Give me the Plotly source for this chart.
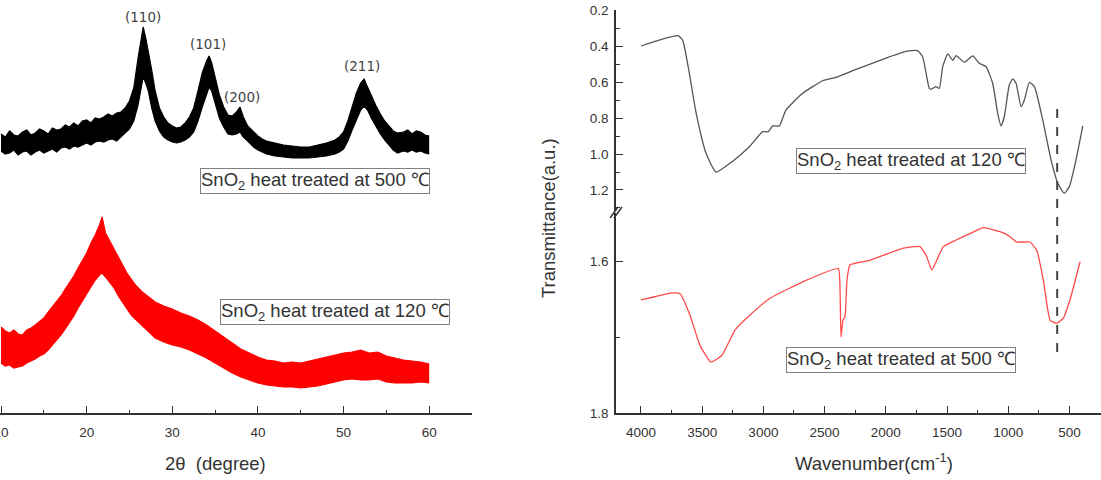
import plotly.graph_objects as go

# ---------------- XRD data (left panel), intensity in a.u. ----------------
xrd_theta_500 = [10.0, 10.5, 11.0, 11.5, 12.0, 12.5, 13.0, 13.5, 14.0, 14.5, 15.0, 15.5, 16.0, 16.5,
                 17.0, 17.5, 18.0, 18.5, 19.0, 19.5, 20.0, 20.5, 21.0, 21.5, 22.0, 22.5, 23.0, 23.5,
                 24.0, 24.5, 25.0, 25.5, 26.0, 26.3, 26.6, 26.9, 27.2, 27.6, 28.0, 28.5, 29.0, 29.5,
                 30.0, 30.5, 31.0, 31.5, 32.0, 32.5, 33.0, 33.5, 34.0, 34.3, 34.6, 35.0, 35.5, 36.0,
                 36.5, 37.0, 37.5, 37.9, 38.3, 38.8, 39.5, 40.0, 40.5, 41.0, 42.0, 43.0, 44.0, 45.0,
                 46.0, 47.0, 48.0, 49.0, 49.5, 50.0, 50.5, 51.0, 51.5, 52.0, 52.4, 52.8, 53.3, 53.8,
                 54.3, 54.8, 55.3, 55.8, 56.3, 57.0, 57.5, 58.0, 58.5, 59.0, 59.5, 60.0]
xrd_upper_500 = [279, 276, 282, 278, 277, 281, 283, 278, 280, 284, 282, 279, 285, 283,
                 284, 288, 286, 290, 287, 292, 293, 290, 295, 294, 296, 299, 297, 300,
                 301, 305, 312, 325, 355, 372, 386, 375, 362, 343, 322, 305, 296, 290,
                 287, 285, 286, 290, 296, 305, 322, 340, 352, 357, 350, 335, 318, 306,
                 298, 297, 301, 306, 296, 287, 281, 277, 274, 272, 270, 268, 267, 266,
                 266, 268, 270, 273, 276, 281, 292, 306, 320, 330, 334, 326, 316, 307,
                 299, 292, 287, 282, 280, 281, 283, 279, 282, 281, 278, 277]
xrd_lower_500 = [262, 259, 260, 263, 258, 261, 262, 258, 261, 263, 260, 262, 264, 261,
                 265, 266, 264, 267, 266, 268, 270, 268, 271, 272, 271, 273, 274, 272,
                 276, 279, 284, 292, 308, 322, 336, 330, 322, 305, 292, 282, 276, 273,
                 271, 270, 271, 273, 276, 281, 292, 306, 320, 326, 322, 310, 295, 286,
                 279, 278, 279, 281, 276, 272, 266, 263, 261, 259, 257, 256, 255, 255,
                 255, 256, 257, 259, 261, 264, 272, 283, 293, 303, 307, 303, 294, 286,
                 279, 273, 268, 263, 260, 262, 261, 263, 261, 262, 260, 259]

xrd_theta_120 = [10.0, 10.5, 11.0, 11.5, 12.0, 12.5, 13.0, 13.5, 14.0, 14.5, 15.0, 15.5, 16.0, 16.5,
                 17.0, 17.5, 18.0, 18.5, 19.0, 19.5, 20.0, 20.5, 21.0, 21.5, 21.8, 22.2, 22.7, 23.2,
                 23.7, 24.2, 24.7, 25.2, 25.8, 26.5, 27.2, 28.0, 29.0, 30.0, 31.0, 32.0, 33.0, 34.0,
                 35.0, 36.0, 37.0, 38.0, 39.0, 40.0, 41.0, 42.0, 43.0, 44.0, 45.0, 46.0, 47.0, 48.0,
                 49.0, 50.0, 51.0, 52.0, 53.0, 54.0, 55.0, 56.0, 57.0, 58.0, 59.0, 60.0]
xrd_upper_120 = [86, 82, 80, 83, 79, 78, 83, 85, 88, 92, 95, 101, 106, 112,
                 117, 124, 130, 137, 145, 152, 160, 170, 178, 188, 196, 180, 172, 163,
                 155, 147, 140, 134, 127, 121, 116, 111, 107, 104, 100, 97, 93, 88,
                 82, 76, 70, 64, 60, 56, 53, 52, 50, 51, 50, 52, 54, 56,
                 58, 60, 61, 63, 60, 61, 57, 55, 53, 52, 51, 49]
xrd_lower_120 = [50, 47, 48, 45, 46, 47, 50, 52, 54, 57, 59, 63, 68, 72,
                 78, 84, 90, 97, 105, 112, 120, 127, 133, 138, 140, 136, 131, 125,
                 117, 111, 104, 98, 93, 87, 81, 75, 71, 68, 66, 63, 59, 55,
                 50, 45, 40, 36, 33, 30, 28, 27, 26, 26, 25, 26, 27, 29,
                 31, 33, 34, 33, 33, 34, 31, 30, 30, 30, 31, 30]

peak_labels = ["(110)", "(101)", "(200)", "(211)"]
peak_theta = [26.6, 34.2, 38.1, 52.2]
peak_label_y = [396, 369, 316, 347]

# ---------------- FTIR data (right panel) ----------------
ftir_wn_120 = [4000, 3700, 3660, 3605, 3550, 3469, 3387, 3250, 3115, 3006, 2960, 2924, 2870, 2815,
               2679, 2516, 2407, 2243, 2025, 1835, 1740, 1699, 1645, 1630, 1590, 1563, 1535, 1494,
               1453, 1426, 1358, 1290, 1236, 1181, 1127, 1086, 1059, 1032, 991, 963, 936, 895,
               868, 827, 786, 718, 650, 595, 541, 500, 446, 391]
ftir_t_120 = [0.40, 0.343, 0.367, 0.552, 0.77, 0.995, 1.10, 1.04, 0.96, 0.876, 0.876, 0.844, 0.844, 0.755,
              0.663, 0.593, 0.574, 0.53, 0.474, 0.43, 0.426, 0.46, 0.635, 0.64, 0.626, 0.635, 0.515, 0.444,
              0.48, 0.453, 0.49, 0.455, 0.496, 0.515, 0.607, 0.774, 0.844, 0.793, 0.617, 0.583, 0.607, 0.737,
              0.70, 0.602, 0.626, 0.811, 1.033, 1.163, 1.218, 1.18, 1.033, 0.844]

ftir_wn_500 = [4000, 3886, 3747, 3681, 3600, 3518, 3428, 3338, 3232, 3109, 2946, 2674, 2388, 2374,
               2366, 2350, 2333, 2317, 2292, 2129, 1857, 1721, 1666, 1625, 1584, 1530, 1421, 1312,
               1203, 1040, 985, 930, 822, 767, 713, 658, 604, 549, 495, 413]
ftir_t_500 = [1.651, 1.647, 1.642, 1.643, 1.671, 1.711, 1.733, 1.724, 1.691, 1.671, 1.649, 1.627, 1.610, 1.638,
              1.700, 1.678, 1.673, 1.625, 1.605, 1.599, 1.583, 1.581, 1.594, 1.612, 1.599, 1.581, 1.572, 1.564,
              1.556, 1.563, 1.568, 1.575, 1.575, 1.586, 1.625, 1.678, 1.682, 1.675, 1.651, 1.601]

ftir_marker_wn = 600

# ---------------- helpers (pixel -> paper) ----------------
W, H = 1101, 480
ML, MR, MT, MB = 0, 0, 10, 67
PH = H - MT - MB


def px(x):
    return x / W


def py(y):
    return (H - MB - y) / PH


AXC = "#333333"
FONT = "Liberation Sans, Arial, sans-serif"

fig = go.Figure()

# XRD bands (filled between read-off envelopes)
fig.add_trace(go.Scatter(x=xrd_theta_500, y=xrd_lower_500, mode="lines",
                         line=dict(color="#000000", width=1.2), xaxis="x", yaxis="y",
                         hoverinfo="skip"))
fig.add_trace(go.Scatter(x=xrd_theta_500, y=xrd_upper_500, mode="lines", fill="tonexty",
                         fillcolor="#000000", line=dict(color="#000000", width=1.2),
                         xaxis="x", yaxis="y"))
fig.add_trace(go.Scatter(x=xrd_theta_120, y=xrd_lower_120, mode="lines",
                         line=dict(color="#ff0000", width=1.2), xaxis="x", yaxis="y",
                         hoverinfo="skip"))
fig.add_trace(go.Scatter(x=xrd_theta_120, y=xrd_upper_120, mode="lines", fill="tonexty",
                         fillcolor="#ff0000", line=dict(color="#ff0000", width=1.2),
                         xaxis="x", yaxis="y"))

# FTIR curves
fig.add_trace(go.Scatter(x=ftir_wn_120, y=ftir_t_120, mode="lines",
                         line=dict(color="#555555", width=1.3, shape="spline", smoothing=0.5),
                         xaxis="x2", yaxis="y2"))
fig.add_trace(go.Scatter(x=ftir_wn_500, y=ftir_t_500, mode="lines",
                         line=dict(color="#ff4a4a", width=1.3, shape="spline", smoothing=0.4),
                         xaxis="x2", yaxis="y3"))

tickfont = dict(family=FONT, size=13.5, color=AXC)

fig.update_layout(
    width=W, height=H,
    margin=dict(l=ML, r=MR, t=MT, b=MB, autoexpand=False),
    paper_bgcolor="white", plot_bgcolor="white",
    showlegend=False,
    font=dict(family=FONT, color=AXC),
    xaxis=dict(domain=[0, 472 / W], range=[9.88, 65.0], anchor="y", automargin=False,
               showline=True, linecolor=AXC, linewidth=1.5, showgrid=False, zeroline=False,
               ticks="inside", ticklen=7, tickwidth=1.3, tickcolor=AXC, tick0=10, dtick=10,
               ticklabeloverflow="allow", ticklabelstandoff=6,
               minor=dict(ticks="inside", ticklen=3, dtick=5, tick0=10, tickcolor=AXC, showgrid=False),
               tickfont=tickfont),
    yaxis=dict(domain=[0, 1], range=[0, PH], visible=False, anchor="x", automargin=False),
    xaxis2=dict(domain=[616 / W, 1], range=[4204, 242], anchor="y3", automargin=False,
                showline=True, linecolor=AXC, linewidth=1.5, showgrid=False, zeroline=False,
                ticks="inside", ticklen=7, tickwidth=1.3, tickcolor=AXC, tick0=500, dtick=500,
                ticklabelstandoff=6,
                minor=dict(ticks="inside", ticklen=3, dtick=250, tick0=500, tickcolor=AXC, showgrid=False),
                tickfont=tickfont),
    yaxis2=dict(domain=[py(211), 1], range=[1.3167, 0.2], anchor="x2", automargin=False,
                showline=True, linecolor=AXC, linewidth=1.5, showgrid=False, zeroline=False,
                ticks="inside", ticklen=7, tickwidth=1.3, tickcolor=AXC, tick0=0.2, dtick=0.2,
                tickformat=".1f", ticklabelstandoff=3,
                minor=dict(ticks="inside", ticklen=4, dtick=0.1, tick0=0.2, tickcolor=AXC, showgrid=False),
                tickfont=tickfont),
    yaxis3=dict(domain=[0, py(213)], range=[1.8, 1.5368], anchor="x2", automargin=False,
                showline=True, linecolor=AXC, linewidth=1.5, showgrid=False, zeroline=False,
                ticks="inside", ticklen=7, tickwidth=1.3, tickcolor=AXC, tick0=1.6, dtick=0.2,
                tickformat=".1f", ticklabelstandoff=3,
                minor=dict(ticks="inside", ticklen=4, dtick=0.1, tick0=1.6, tickcolor=AXC, showgrid=False),
                tickfont=tickfont),
)

# dashed marker line
fig.add_shape(type="line", xref="x2", yref="paper", x0=ftir_marker_wn, x1=ftir_marker_wn,
              y0=py(352), y1=py(100), line=dict(color="#444444", width=2, dash="dash"))

# axis break marks
for dx in (0, 4):
    fig.add_shape(type="line", xref="paper", yref="paper",
                  x0=px(610 + dx), y0=py(218), x1=px(618 + dx), y1=py(207),
                  line=dict(color=AXC, width=1.5))

# peak labels
for lab, th, yy in zip(peak_labels, peak_theta, peak_label_y):
    fig.add_annotation(x=th, y=yy, xref="x", yref="y", text=lab, showarrow=False,
                       xanchor="center", yanchor="middle",
                       font=dict(family="DejaVu Sans, Verdana, sans-serif", size=13.5, color="#444444"))

# boxed labels
box_labels = [
    ("SnO<sub>2</sub> heat treated at 500 ℃", 315, 181),
    ("SnO<sub>2</sub> heat treated at 120 ℃", 335, 312),
    ("SnO<sub>2</sub> heat treated at 120 ℃", 911, 161),
    ("SnO<sub>2</sub> heat treated at 500 ℃", 901, 360),
]
for txt, cx, cy in box_labels:
    fig.add_annotation(x=px(cx), y=py(cy), xref="paper", yref="paper", text=txt,
                       xanchor="center", yanchor="middle",
                       showarrow=False, bgcolor="white", bordercolor="#808080", borderwidth=1,
                       borderpad=0, font=dict(family=FONT, size=18.5, color="#333333"))

# axis titles
title_font = dict(family=FONT, size=18.5, color=AXC)
fig.add_annotation(x=px(215), y=py(463), xref="paper", yref="paper", text="2θ  (degree)",
                   xanchor="center", yanchor="middle", showarrow=False, font=title_font)
fig.add_annotation(x=px(874), y=py(462), xref="paper", yref="paper",
                   text="Wavenumber(cm<sup>-1</sup>)",
                   xanchor="center", yanchor="middle", showarrow=False, font=title_font)
fig.add_annotation(x=px(548), y=py(218), xref="paper", yref="paper", text="Transmittance(a.u.)",
                   xanchor="center", yanchor="middle",
                   textangle=-90, showarrow=False, font=title_font)

fig.write_html("out.html")
